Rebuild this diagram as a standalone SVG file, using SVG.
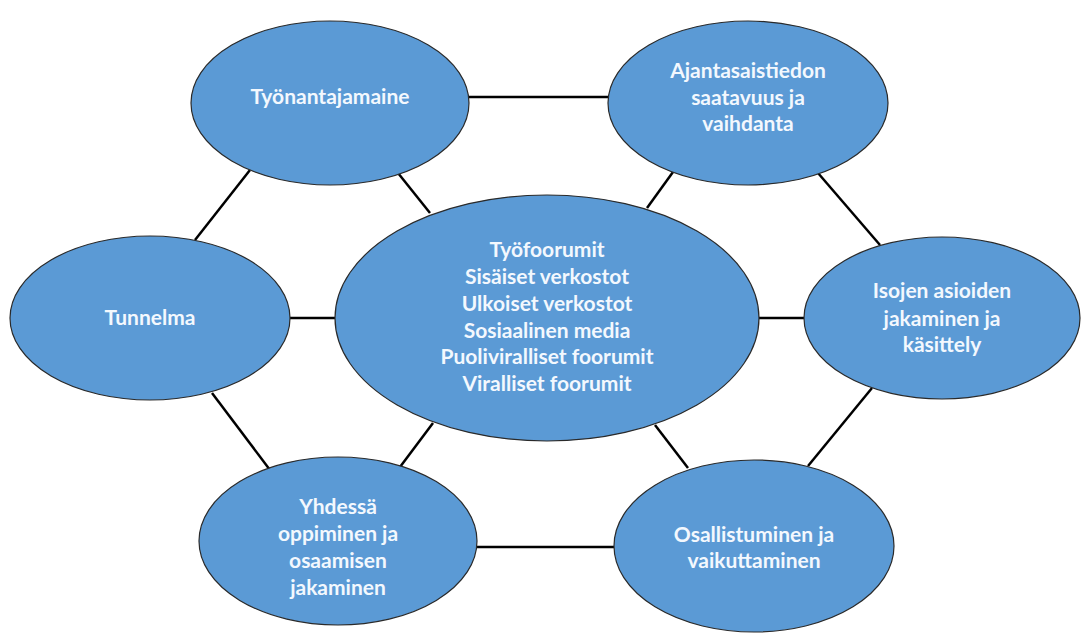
<svg xmlns="http://www.w3.org/2000/svg" width="1083" height="635" viewBox="0 0 1083 635">
<style>
.node ellipse{fill:#5B9AD5;stroke:#2a2a2a;stroke-width:1.2}
.node text{font-family:Lato,"Open Sans","Liberation Sans",sans-serif;font-weight:bold;font-size:21px;fill:#F3F8FE;text-anchor:middle}
.conn line{stroke:#000;stroke-width:2.5}
</style>
<rect width="1083" height="635" fill="#fff"/>
<g class="conn" id="connectors">
<line x1="469" y1="97" x2="608" y2="97"/>
<line x1="250" y1="170" x2="195" y2="240"/>
<line x1="398" y1="173" x2="430" y2="213"/>
<line x1="290" y1="318" x2="335" y2="318"/>
<line x1="212" y1="393" x2="270" y2="470"/>
<line x1="433" y1="423" x2="400" y2="467"/>
<line x1="673" y1="172" x2="647" y2="208"/>
<line x1="818" y1="173" x2="880" y2="245"/>
<line x1="758" y1="318" x2="804" y2="318"/>
<line x1="872" y1="388" x2="808" y2="466"/>
<line x1="655" y1="425" x2="688" y2="468"/>
<line x1="477" y1="547" x2="614" y2="547"/>
</g>
<g class="node" id="n-tyonantajamaine">
<ellipse cx="330" cy="103" rx="139" ry="82"/>
<text x="330" y="104">Työnantajamaine</text>
</g>
<g class="node" id="n-ajantasaistiedon">
<ellipse cx="748" cy="103" rx="140" ry="82"/>
<text x="748" y="78">Ajantasaistiedon</text>
<text x="748" y="105">saatavuus ja</text>
<text x="748" y="131">vaihdanta</text>
</g>
<g class="node" id="n-tunnelma">
<ellipse cx="150" cy="318" rx="140" ry="82"/>
<text x="150" y="325">Tunnelma</text>
</g>
<g class="node" id="n-center">
<ellipse cx="547" cy="318" rx="212" ry="123"/>
<text x="547" y="257">Työfoorumit</text>
<text x="547" y="284">Sisäiset verkostot</text>
<text x="547" y="311">Ulkoiset verkostot</text>
<text x="547" y="338">Sosiaalinen media</text>
<text x="547" y="364">Puoliviralliset foorumit</text>
<text x="547" y="391">Viralliset foorumit</text>
</g>
<g class="node" id="n-isojen">
<ellipse cx="942" cy="318" rx="138" ry="81"/>
<text x="942" y="298">Isojen asioiden</text>
<text x="942" y="326">jakaminen ja</text>
<text x="942" y="352">käsittely</text>
</g>
<g class="node" id="n-yhdessa">
<ellipse cx="338" cy="541" rx="139" ry="84"/>
<text x="338" y="514">Yhdessä</text>
<text x="338" y="541">oppiminen ja</text>
<text x="338" y="568">osaamisen</text>
<text x="338" y="595">jakaminen</text>
</g>
<g class="node" id="n-osallistuminen">
<ellipse cx="754" cy="546" rx="140" ry="86"/>
<text x="754" y="542">Osallistuminen ja</text>
<text x="754" y="568">vaikuttaminen</text>
</g>
</svg>
